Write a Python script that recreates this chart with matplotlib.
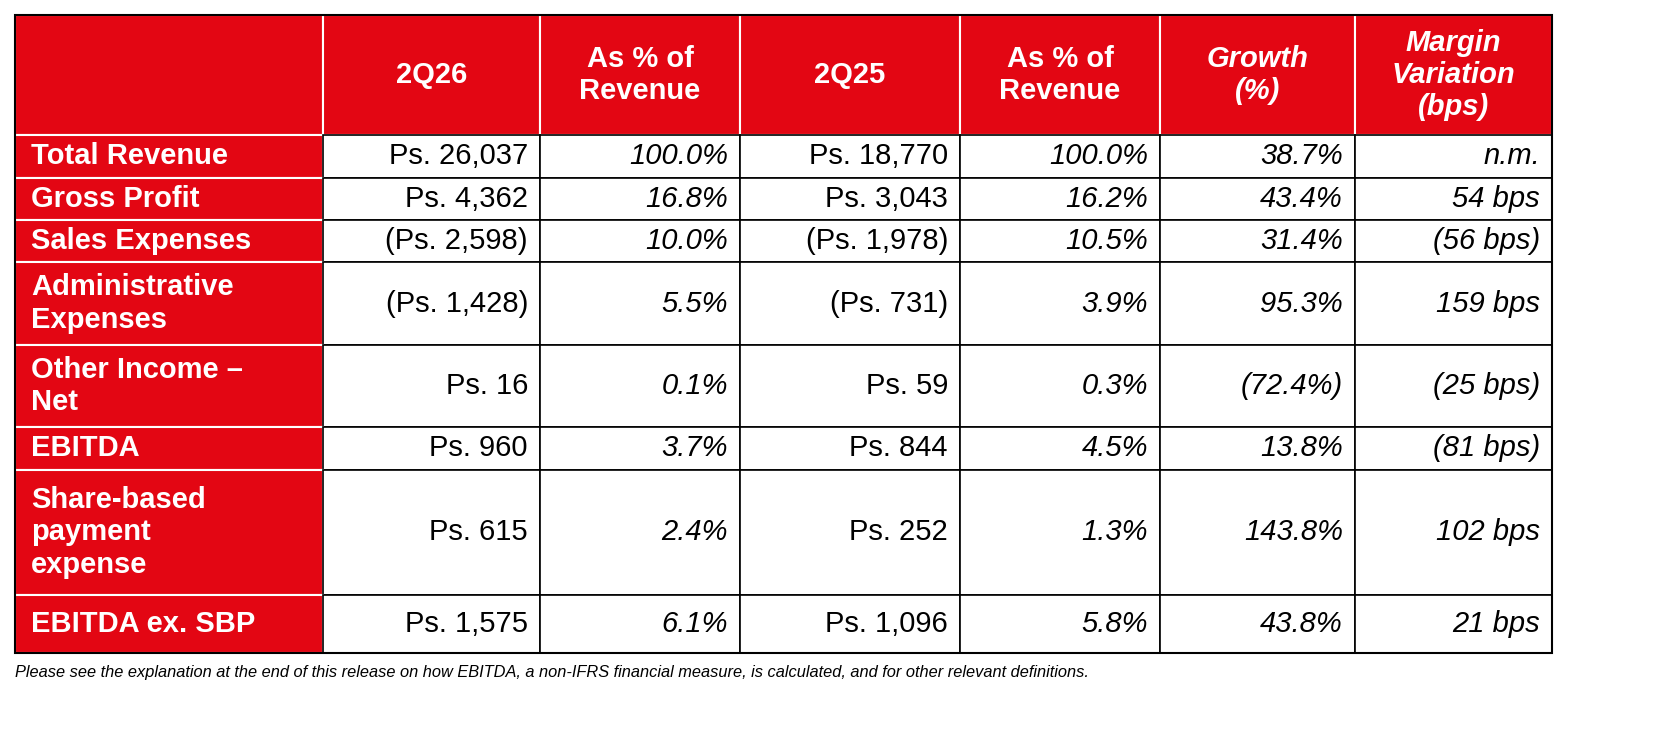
import matplotlib
matplotlib.use("Agg")
import matplotlib.pyplot as plt
from matplotlib.patches import Rectangle

headers = ["", "2Q26", "As % of\nRevenue", "2Q25", "As % of\nRevenue", "Growth\n(%)", "Margin\nVariation\n(bps)"]
header_italic = [False, False, False, False, False, True, True]
rows = ["Total Revenue", "Gross Profit", "Sales Expenses", "Administrative\nExpenses",
        "Other Income –\nNet", "EBITDA", "Share-based\npayment\nexpense", "EBITDA ex. SBP"]
q26 = ["Ps. 26,037", "Ps. 4,362", "(Ps. 2,598)", "(Ps. 1,428)", "Ps. 16", "Ps. 960", "Ps. 615", "Ps. 1,575"]
pct26 = ["100.0%", "16.8%", "10.0%", "5.5%", "0.1%", "3.7%", "2.4%", "6.1%"]
q25 = ["Ps. 18,770", "Ps. 3,043", "(Ps. 1,978)", "(Ps. 731)", "Ps. 59", "Ps. 844", "Ps. 252", "Ps. 1,096"]
pct25 = ["100.0%", "16.2%", "10.5%", "3.9%", "0.3%", "4.5%", "1.3%", "5.8%"]
growth = ["38.7%", "43.4%", "31.4%", "95.3%", "(72.4%)", "13.8%", "143.8%", "43.8%"]
margin = ["n.m.", "54 bps", "(56 bps)", "159 bps", "(25 bps)", "(81 bps)", "102 bps", "21 bps"]
footnote = ("Please see the explanation at the end of this release on how EBITDA, a non-IFRS financial measure, "
            "is calculated, and for other relevant definitions.")

RED = "#E30613"
plt.rcParams['font.family'] = ['Liberation Sans', 'DejaVu Sans']
fig = plt.figure(figsize=(16.68, 7.30), dpi=100)
ax = fig.add_axes([0, 0, 1, 1])
ax.set_xlim(0, 1668); ax.set_ylim(730, 0); ax.axis("off")

cx = [15, 323, 540, 740, 960, 1160, 1355, 1552]
ry = [15, 135, 178, 220, 262, 345, 427, 470, 595, 653]
FS = 21
LS = 1.2

for j in range(7):
    ax.add_patch(Rectangle((cx[j], ry[0]), cx[j+1]-cx[j], ry[1]-ry[0], fc=RED, ec="white", lw=1.5))
    if headers[j]:
        ax.text((cx[j]+cx[j+1])/2, (ry[0]+ry[1])/2, headers[j], ha="center", va="center",
                color="white", fontsize=FS, fontweight="bold",
                style="italic" if header_italic[j] else "normal", linespacing=LS)

cols = [q26, pct26, q25, pct25, growth, margin]
italic = [False, True, False, True, True, True]
for i in range(len(rows)):
    y0, y1 = ry[i+1], ry[i+2]
    ax.add_patch(Rectangle((cx[0], y0), cx[1]-cx[0], y1-y0, fc=RED, ec="white", lw=1.5))
    ax.text(cx[0]+16, (y0+y1)/2, rows[i], ha="left", va="center", color="white",
            fontsize=FS, fontweight="bold", linespacing=LS)
    for j, col in enumerate(cols):
        ax.add_patch(Rectangle((cx[j+1], y0), cx[j+2]-cx[j+1], y1-y0, fc="white", ec="black", lw=1.2))
        ax.text(cx[j+2]-12, (y0+y1)/2, col[i], ha="right", va="center", color="black",
                fontsize=FS, style="italic" if italic[j] else "normal")

ax.add_patch(Rectangle((cx[0], ry[0]), cx[-1]-cx[0], ry[-1]-ry[0], fc="none", ec="black", lw=1.5))
ax.text(cx[0], 672, footnote, ha="left", va="center", fontsize=11.8, style="italic", color="black")

fig.savefig("out.png", dpi=100, facecolor="white")
